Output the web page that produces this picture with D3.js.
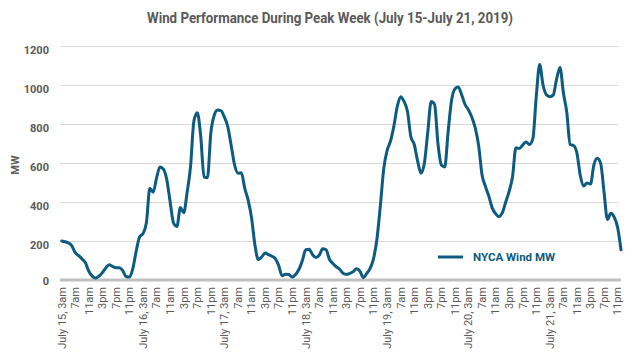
<!DOCTYPE html>
<html><head><meta charset="utf-8">
<script src="https://cdn.jsdelivr.net/npm/d3@7/dist/d3.min.js"></script>
<style>body{margin:0;background:#fff;} svg{display:block;font-family:Roboto, "Noto Sans", sans-serif;}</style>
</head><body><svg id="c" width="640" height="360"></svg>
<script>
const title = "Wind Performance During Peak Week (July 15-July 21, 2019)";
const seriesName = "NYCA Wind MW";
const yTicks = [0, 200, 400, 600, 800, 1000, 1200];
const days = ["July 15", "July 16", "July 17", "July 18", "July 19", "July 20", "July 21"];
const hoursLabels = ["3am", "7am", "11am", "3pm", "7pm", "11pm"];
// hourly MW, starting July 15 3am
const windMW = [
200,196,190,175,140,125,108,88,45,20,10,20,38,62,78,70,63,63,48,18,15,60,150,222,
238,295,470,450,525,580,568,515,400,292,275,372,345,450,580,815,858,740,528,525,755,845,872,868,
835,786,690,590,548,550,470,410,320,180,105,118,138,130,122,110,75,22,30,28,15,28,55,100,
155,158,130,115,128,160,155,105,85,68,55,35,29,34,43,58,45,12,34,60,110,210,380,570,
665,712,790,890,940,915,865,735,695,610,548,600,760,915,900,700,590,580,760,920,980,990,950,900,
872,835,780,690,540,480,430,370,340,325,345,400,455,530,678,675,692,708,695,725,940,1105,1000,950,
940,948,1030,1090,960,860,695,690,650,535,482,498,492,590,624,598,450,310,342,322,270,155
];
const xLabels = [];
days.forEach(d => hoursLabels.forEach((h, k) => xLabels.push(k === 0 ? d + ", " + h : h)));

const svg = d3.select("#c");
const x = d3.scaleLinear().domain([0, windMW.length - 1]).range([61.7, 621]);
const y = d3.scaleLinear().domain([0, 1200]).range([280, 46]);
const grey = "#595959", blue = "#0d5b80";

svg.append("text").attr("x", 330).attr("y", 23).attr("text-anchor", "middle")
  .attr("fill", grey).attr("font-weight", 700).attr("font-size", 15)
  .attr("textLength", 366).attr("lengthAdjust", "spacingAndGlyphs").text(title);

// grid
svg.append("g").selectAll("line").data(yTicks.filter(t => t > 0)).join("line")
  .attr("x1", 60).attr("x2", 618).attr("y1", d => y(d) + 0.5).attr("y2", d => y(d) + 0.5)
  .attr("stroke", "#d9d9d9").attr("stroke-width", 1);
// baseline
svg.append("line").attr("x1", 60).attr("x2", 621).attr("y1", y(0)).attr("y2", y(0))
  .attr("stroke", "#bfbfbf").attr("stroke-width", 3);

// y labels
svg.append("g").selectAll("text").data(yTicks).join("text")
  .attr("x", 49).attr("y", d => y(d) + (d === 0 ? 1 : 4)).attr("dy", "0.35em")
  .attr("text-anchor", "end").attr("fill", grey).attr("font-weight", 700).attr("font-size", 11)
  .text(d => d);
svg.append("text").attr("transform", "translate(15,165) rotate(-90)").attr("text-anchor", "middle")
  .attr("dy", "0.35em").attr("fill", grey).attr("font-weight", 700).attr("font-size", 11).text("MW");

// x labels
svg.append("g").selectAll("text").data(xLabels).join("text")
  .attr("transform", (d, i) => `translate(${x(i * 4)},287) rotate(-90)`)
  .attr("text-anchor", "end").attr("dy", "0.35em").attr("fill", grey).attr("font-size", 11)
  .text(d => d);

// line
const line = d3.line().x((d, i) => x(i)).y(d => y(d)).curve(d3.curveMonotoneX);
svg.append("path").datum(windMW).attr("d", line).attr("fill", "none")
  .attr("stroke", blue).attr("stroke-width", 3).attr("stroke-linejoin", "round").attr("stroke-linecap", "round");

// legend
svg.append("line").attr("x1", 438).attr("x2", 463).attr("y1", 257).attr("y2", 257)
  .attr("stroke", blue).attr("stroke-width", 3);
svg.append("text").attr("x", 473).attr("y", 257).attr("dy", "0.35em").attr("fill", blue)
  .attr("font-weight", 700).attr("font-size", 11.5).text(seriesName);
</script></body></html>
